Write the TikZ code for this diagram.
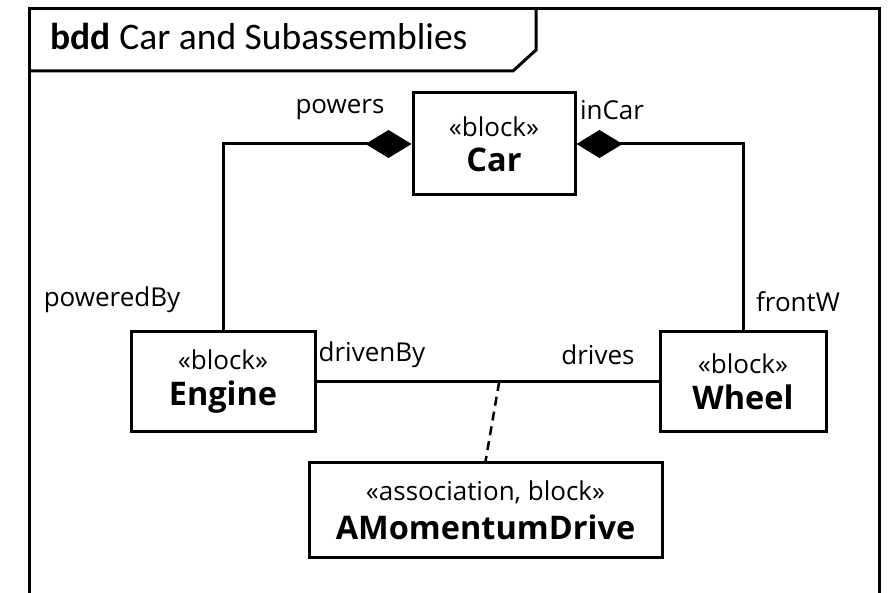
\documentclass[tikz,border=0pt]{standalone}
\usepackage{fontspec}
\setmainfont{Open Sans}
\newfontfamily\titlefont{Carlito}
\usetikzlibrary{arrows.meta,positioning,calc}
\newcommand{\blocktext}[2]{{\fontsize{26}{26}\selectfont «#1»}\\[10pt]{\fontsize{32.5}{32.5}\selectfont\bfseries #2}}

\begin{document}
\begin{tikzpicture}
[x=1pt,y=-1pt,align=center,node distance=520pt,line width=3pt]
\tikzstyle{block}=[draw,fill=white,line width=3pt,inner sep=0pt]
\tikzstyle{role}=[inner sep=0pt,font=\fontsize{26}{26}\selectfont]
\tikzstyle{comp}=[{Diamond[length=46pt,width=28pt]}-]

\useasboundingbox (0,0) rectangle (892,593);
\clip (0,0) rectangle (892,593);

\draw (29,610) -- (29,9) -- (879,9) -- (879,610);
\draw (29,71) -- (513,71) -- (536,50) -- (536,9);
\draw node [anchor=base west,inner sep=0pt] (title) at (49,50) {\titlefont\fontsize{37.5}{37.5}\selectfont\textbf{bdd} Car and Subassemblies};

\draw node [block,minimum width=162pt,minimum height=102pt] (car) at (494,144) {\blocktext{block}{Car}};
\draw node [block,minimum width=184pt,minimum height=100pt] (engine) at (223,382) {\blocktext{block}{Engine}};
\draw node [block,minimum width=166pt,minimum height=100pt,right of=engine] (wheel) {\blocktext{block}{Wheel}};
\draw node [block,minimum width=353pt,minimum height=94pt] (amd) at (485.5,510) {\blocktext{association, block}{AMomentumDrive}};

\draw [comp] (car.west) -| (engine.north);
\draw [comp] (car.east) -| (wheel.north);
\draw (engine.east) -- (wheel.west);
\coordinate (assoc) at ($(engine.east)!0.534!(wheel.west)$);
\draw [dash pattern=on 9pt off 6pt,line width=2.5pt] (assoc) -- (amd.north);

\draw node [role] (powers) at (340,110) {powers};
\draw node [role] (incar) at (612,110) {inCar};
\draw node [role] (poweredby) at (112,300) {poweredBy};
\draw node [role] (frontw) at (798,302) {frontW};
\draw node [role] (drivenby) at (372,355) {drivenBy};
\draw node [role] (drives) at (598,355) {drives};

\end{tikzpicture}
\end{document}
